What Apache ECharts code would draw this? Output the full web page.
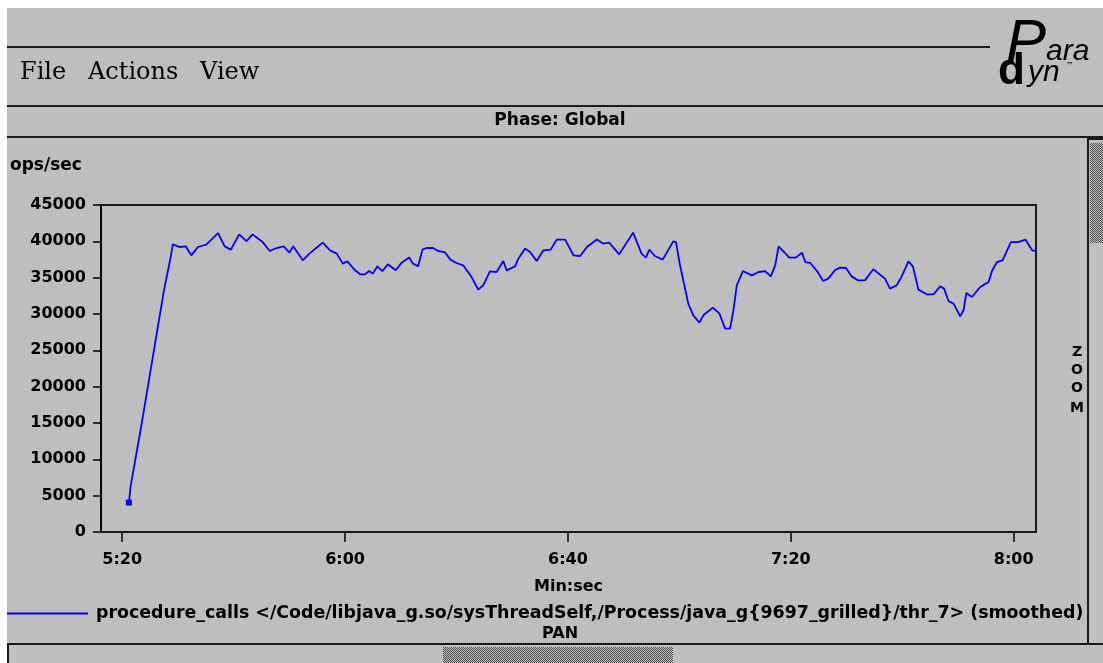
<!DOCTYPE html>
<html>
<head>
<meta charset="utf-8">
<script src="https://cdn.jsdelivr.net/npm/echarts@6/dist/echarts.min.js"></script>
<style>
  html, body { margin: 0; padding: 0; background: #fff; }
  #bg { position: absolute; left: 7px; top: 8px; width: 1096px; height: 655px; background: #bebebe; }
  #main { position: absolute; left: 0; top: 0; width: 1103px; height: 663px; }
</style>
</head>
<body>
<div id="bg"></div>
<div id="main"></div>
<script>
// time in seconds since start
const times = [
  321.2, 321.5, 323.5, 325.7, 327.5, 328.6, 329.1, 330.3, 331.4, 332.4,
  333.6, 335.1, 337.2, 338.4, 339.5, 341.0, 342.3, 343.4, 345.2, 346.5,
  347.7, 349.0, 350.0, 350.7, 352.4, 353.6, 356.0, 357.3, 358.5, 359.6,
  360.4, 361.8, 362.7, 363.6, 364.3, 365.0, 365.8, 366.7, 367.7, 369.1,
  370.1, 371.5, 372.2, 373.1, 373.9, 374.6, 375.8, 376.7, 377.9, 378.9,
  380.0, 381.2, 382.7, 383.9, 384.8, 386.0, 387.2, 388.4, 389.0, 390.5,
  391.1, 392.3, 393.2, 394.4, 395.6, 396.9, 398.0, 399.5, 401.0, 402.2,
  403.4, 405.2, 406.3, 407.4, 409.2, 411.7, 413.2, 414.0, 414.6, 415.6,
  417.0, 418.9, 419.4, 420.0, 420.8, 421.6, 422.5, 423.6, 424.3, 426.0,
  427.2, 428.2, 429.1, 429.7, 430.3, 431.4, 433.0, 434.2, 435.4, 436.4,
  437.2, 437.8, 438.8, 439.7, 440.9, 442.0, 442.6, 443.5, 444.7, 445.8,
  446.7, 447.9, 448.8, 449.9, 450.9, 452.1, 453.3, 454.8, 456.9, 457.8,
  459.0, 459.9, 461.1, 461.9, 462.9, 464.4, 465.6, 466.8, 467.5, 468.3,
  469.2, 470.4, 471.0, 471.5, 472.5, 474.0, 475.5, 476.1, 477.0, 478.0,
  479.5, 480.8, 482.1, 483.3, 484.0
];
// ops/sec
const opsPerSec = [
  4050, 6200, 14900, 25000, 33260, 37390, 39590, 39220, 39310, 38075,
  39220, 39540, 41140, 39310, 38860, 40960, 40040, 40960, 39900, 38670,
  39080, 39310, 38450, 39310, 37390, 38310, 39820, 38760, 38310, 36930,
  37250, 36010, 35460, 35460, 35910, 35560, 36560, 35910, 36840, 36010,
  37020, 37760, 36930, 36560, 38860, 39080, 39080, 38670, 38530, 37480,
  37020, 36700, 35090, 33350, 33950, 35870, 35780, 37290, 36010, 36560,
  37620, 39000, 38530, 37290, 38760, 38860, 40240, 40240, 38075, 37980,
  39220, 40240, 39690, 39820, 38210, 41200, 38310, 37760, 38860, 37980,
  37480, 40000, 39900, 37150, 34260, 31430, 29820, 28810, 29820, 30880,
  30050, 27990, 27990, 30510, 33950, 35910, 35320, 35780, 35910, 35180,
  36700, 39310, 38530, 37760, 37760, 38450, 37150, 37020, 35910, 34540,
  34870, 36010, 36380, 36330, 35180, 34630, 34630, 36150, 34870, 33490,
  33950, 35180, 37250, 36560, 33350, 32710, 32710, 33810, 33490, 31790,
  31430, 29680, 30510, 32890, 32340, 33710, 34400, 35910, 37150, 37390,
  39900, 39900, 40240, 38760, 38670
];
const xTicks = [320, 360, 400, 440, 480];
const seriesName = 'procedure_calls </Code/libjava_g.so/sysThreadSelf,/Process/java_g{9697_grilled}/thr_7> (smoothed)';

const SANS = '"DejaVu Sans", sans-serif';
const SERIF = '24px "DejaVu Serif", serif';
const BOLD16 = 'bold 16px ' + SANS;

// 2x2 stipple for the scrollbar thumbs
const stipple = document.createElement('canvas');
stipple.width = 2; stipple.height = 2;
const sctx = stipple.getContext('2d');
sctx.fillStyle = '#bebebe'; sctx.fillRect(0, 0, 2, 2);
sctx.fillStyle = '#505050'; sctx.fillRect(0, 0, 1, 1); sctx.fillRect(1, 1, 1, 1);

const mmss = (v) => {
  const s = Math.round(v);
  const m = Math.floor(s / 60);
  const r = s % 60;
  return m + ':' + (r < 10 ? '0' + r : r);
};

const line = (x1, y1, x2, y2, w) => ({
  type: 'line',
  shape: {x1, y1, x2, y2},
  style: {stroke: '#1a1a1a', lineWidth: w || 2}
});
const text = (str, x, y, font, align) => ({
  type: 'text',
  x, y,
  style: {text: str, font, fill: '#000', textAlign: align || 'left', textVerticalAlign: 'middle'}
});

const chart = echarts.init(document.getElementById('main'));

chart.setOption({
  animation: false,
  backgroundColor: 'transparent',
  grid: {
    left: 101, top: 205, right: 67, bottom: 131,
    show: true,
    borderColor: '#1a1a1a',
    borderWidth: 2
  },
  legend: {
    left: 7,
    top: 605,
    padding: 0,
    icon: 'rect',
    itemWidth: 81,
    itemHeight: 2,
    data: [seriesName],
    textStyle: {color: '#000', fontFamily: SANS, fontWeight: 'bold', fontSize: 17.4, padding: [0, 0, 0, 3]}
  },
  xAxis: {
    type: 'value',
    min: 316.2,
    max: 484.0,
    offset: 6,
    splitLine: {show: false},
    axisLine: {show: false},
    axisTick: {show: true, length: 10, customValues: xTicks, lineStyle: {color: '#000', width: 1.5}},
    axisLabel: {
      customValues: xTicks,
      margin: 14,
      color: '#000',
      fontFamily: SANS,
      fontWeight: 'bold',
      fontSize: 16,
      formatter: mmss
    },
    name: 'Min:sec',
    nameLocation: 'middle',
    nameGap: 41,
    nameTextStyle: {color: '#000', fontFamily: SANS, fontWeight: 'bold', fontSize: 16}
  },
  yAxis: {
    type: 'value',
    min: 0,
    max: 45000,
    interval: 5000,
    splitLine: {show: false},
    axisLine: {show: true, lineStyle: {color: '#000', width: 2}},
    axisTick: {show: true, length: 8, lineStyle: {color: '#000', width: 1.5}},
    axisLabel: {
      margin: 15, color: '#000', fontFamily: SANS, fontWeight: 'bold', fontSize: 16,
      formatter: (v) => String(v)
    }
  },
  series: [{
    name: seriesName,
    type: 'line',
    color: '#0000ff',
    symbol: 'none',
    showSymbol: true,
    lineStyle: {color: '#0000ff', width: 1.8},
    data: times.map((t, i) => i === 0
      ? {value: [t, opsPerSec[i]], symbol: 'rect', symbolSize: 6, itemStyle: {color: '#0000ff'}}
      : [t, opsPerSec[i]])
  }],
  graphic: [
    // menu bar
    line(7, 47, 990, 47),
    text('File', 20, 73, SERIF),
    text('Actions', 88, 73, SERIF),
    text('View', 200, 73, SERIF),
    line(7, 106, 1103, 106),
    text('Phase: Global', 560, 121, 'bold 17px ' + SANS, 'center'),
    line(7, 137, 1103, 137),
    // logo
    text('P', 1006, 44, 'italic 60px "Liberation Sans", sans-serif'),
    text('ara', 1046, 52, 'italic 30px "Liberation Sans", sans-serif'),
    text('d', 998, 72, 'bold 44px "Liberation Sans", sans-serif'),
    text('yn', 1028, 73, 'italic 30px "Liberation Sans", sans-serif'),
    text('\u2122', 1066, 66, '8px ' + SANS),
    // axis title
    text('ops/sec', 10, 166, 'bold 17px ' + SANS),
    // zoom scrollbar
    line(1088, 138, 1088, 644),
    line(1088, 139, 1103, 139),
    {type: 'rect', shape: {x: 1090, y: 143, width: 13, height: 100}, style: {fill: {image: stipple, repeat: 'repeat'}}},
    text('Z', 1077, 352, 'bold 14px ' + SANS, 'center'),
    text('O', 1077, 370, 'bold 14px ' + SANS, 'center'),
    text('O', 1077, 388, 'bold 14px ' + SANS, 'center'),
    text('M', 1077, 408, 'bold 14px ' + SANS, 'center'),
    // pan scrollbar
    text('PAN', 560, 634, BOLD16, 'center'),
    line(7, 644, 1103, 644),
    line(8, 644, 8, 663),
    {type: 'rect', shape: {x: 443, y: 647, width: 230, height: 16}, style: {fill: {image: stipple, repeat: 'repeat'}}}
  ]
});
</script>
</body>
</html>
